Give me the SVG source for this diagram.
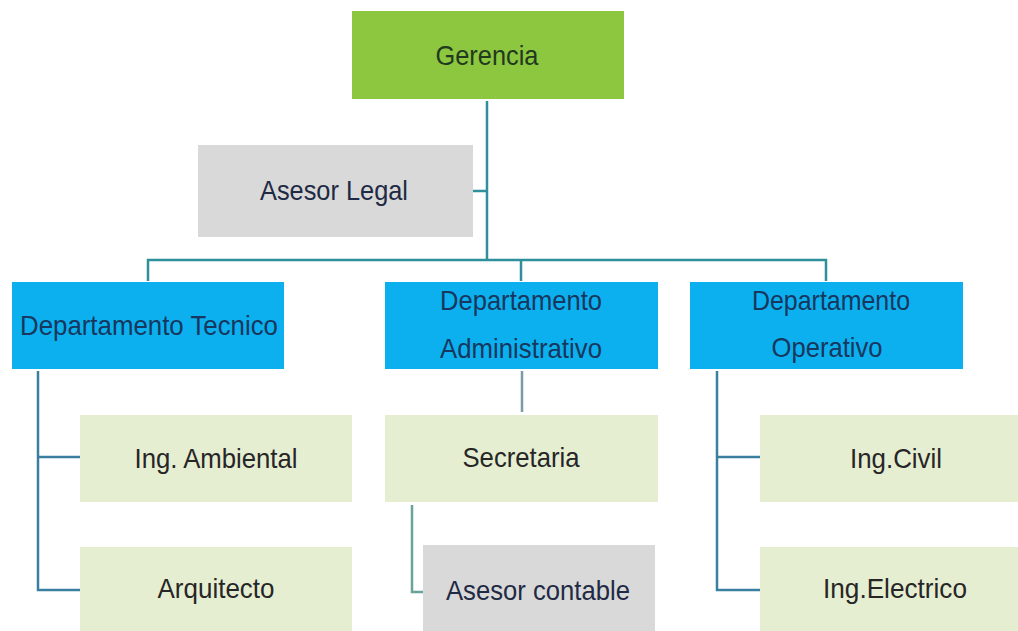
<svg xmlns="http://www.w3.org/2000/svg" width="1018" height="631" viewBox="0 0 1018 631">
<style>
text{font-family:"Liberation Sans",Arial,sans-serif;font-size:28px;text-anchor:middle;fill:#262626}
.dept text{fill:#17375e}
.c{fill:none;stroke:#2f8f9a;stroke-width:2.5}
</style>
<rect width="1018" height="631" fill="#ffffff"/>
<g id="connectors">
<path class="c" d="M487,101 V260"/>
<path class="c" d="M473,191 H487"/>
<path class="c" d="M148,281 V260 H826 V281"/>
<path class="c" d="M521,260 V281"/>
<path class="c" d="M38,371 V590 H80 M38,457 H80" style="stroke:#3b7fa0"/>
<path class="c" d="M522,371 V412" style="stroke:#7a9aa6"/>
<path class="c" d="M412,505 V592 H423" style="stroke:#6aa39a"/>
<path class="c" d="M717,371 V590 H760 M717,457 H760" style="stroke:#3b7fa0"/>
</g>
<g id="gerencia"><rect x="352" y="11" width="272" height="88" fill="#8dc63f"/><text x="487" y="65" textLength="103" lengthAdjust="spacingAndGlyphs" style="fill:#1f3a1f">Gerencia</text></g>
<g id="asesor-legal"><rect x="198" y="145" width="275" height="92" fill="#d9d9d9"/><text x="334" y="200" textLength="148" lengthAdjust="spacingAndGlyphs" style="fill:#1f2a44">Asesor Legal</text></g>
<g id="dept-tecnico" class="dept"><rect x="12" y="282" width="272" height="87" fill="#0cb0ef"/><text x="149" y="335" textLength="258" lengthAdjust="spacingAndGlyphs">Departamento Tecnico</text></g>
<g id="dept-administrativo" class="dept"><rect x="385" y="282" width="273" height="87" fill="#0cb0ef"/><text x="521" y="310" textLength="162" lengthAdjust="spacingAndGlyphs">Departamento</text><text x="521" y="358" textLength="162" lengthAdjust="spacingAndGlyphs">Administrativo</text></g>
<g id="dept-operativo" class="dept"><rect x="690" y="282" width="273" height="87" fill="#0cb0ef"/><text x="831" y="310" textLength="158" lengthAdjust="spacingAndGlyphs">Departamento</text><text x="827" y="357" textLength="111" lengthAdjust="spacingAndGlyphs">Operativo</text></g>
<g id="ing-ambiental"><rect x="80" y="415" width="272" height="87" fill="#e6eed2"/><text x="216" y="468" textLength="163" lengthAdjust="spacingAndGlyphs">Ing. Ambiental</text></g>
<g id="arquitecto"><rect x="80" y="547" width="272" height="84" fill="#e6eed2"/><text x="216" y="598" textLength="117" lengthAdjust="spacingAndGlyphs">Arquitecto</text></g>
<g id="secretaria"><rect x="385" y="415" width="273" height="87" fill="#e6eed2"/><text x="521" y="467" textLength="117" lengthAdjust="spacingAndGlyphs">Secretaria</text></g>
<g id="asesor-contable"><rect x="423" y="545" width="232" height="86" fill="#d9d9d9"/><text x="538" y="600" textLength="184" lengthAdjust="spacingAndGlyphs" style="fill:#1f2a44">Asesor contable</text></g>
<g id="ing-civil"><rect x="760" y="415" width="258" height="87" fill="#e6eed2"/><text x="896" y="468" textLength="92" lengthAdjust="spacingAndGlyphs">Ing.Civil</text></g>
<g id="ing-electrico"><rect x="760" y="547" width="258" height="84" fill="#e6eed2"/><text x="895" y="598" textLength="144" lengthAdjust="spacingAndGlyphs">Ing.Electrico</text></g>
</svg>
